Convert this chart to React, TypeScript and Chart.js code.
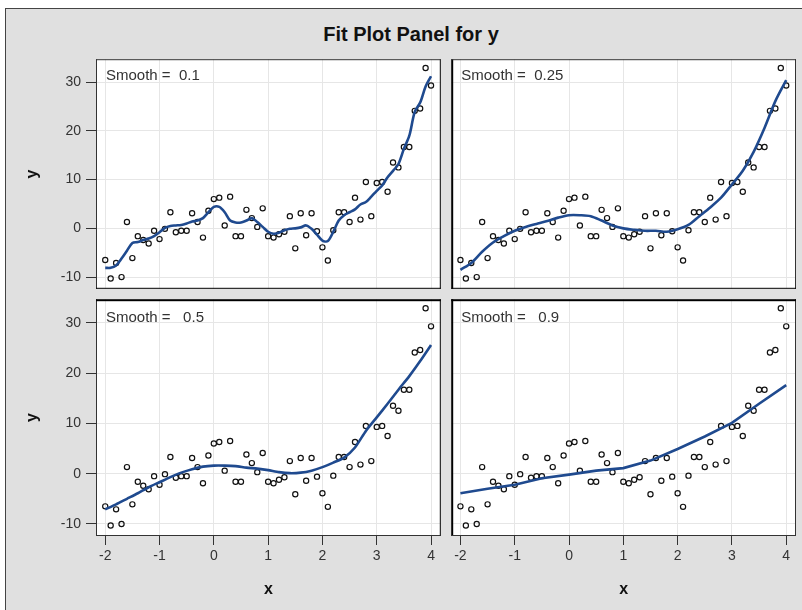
import React, { useEffect, useRef } from "react";
import { Chart, registerables } from "chart.js";

Chart.register(...registerables);

// ---------- data ----------
const xValues = [
  -2.0, -1.9, -1.8, -1.7, -1.6, -1.5, -1.4, -1.3, -1.2, -1.1,
  -1.0, -0.9, -0.8, -0.7, -0.6, -0.5, -0.4, -0.3, -0.2, -0.1,
  0.0, 0.1, 0.2, 0.3, 0.4, 0.5, 0.6, 0.7, 0.8, 0.9,
  1.0, 1.1, 1.2, 1.3, 1.4, 1.5, 1.6, 1.7, 1.8, 1.9,
  2.0, 2.1, 2.2, 2.3, 2.4, 2.5, 2.6, 2.7, 2.8, 2.9,
  3.0, 3.1, 3.2, 3.3, 3.4, 3.5, 3.6, 3.7, 3.8, 3.9, 4.0,
];
const yValues = [
  -6.5, -10.3, -7.1, -10.0, 1.3, -6.1, -1.6, -2.4, -3.1, -0.5,
  -2.2, -0.1, 3.3, -0.8, -0.5, -0.5, 3.1, 1.3, -1.9, 3.6,
  6.0, 6.3, 0.6, 6.5, -1.6, -1.6, 3.8, 2.1, 0.3, 4.1,
  -1.6, -1.9, -1.2, -0.7, 2.5, -4.1, 3.1, -1.4, 3.1, -0.6,
  -3.9, -6.6, -0.4, 3.3, 3.3, 1.3, 6.3, 1.8, 9.5, 2.5,
  9.3, 9.5, 7.5, 13.5, 12.5, 16.7, 16.7, 24.1, 24.6, 32.9, 29.3,
];

const fit01X = xValues;
const fit01Y = [
  -8.1, -8.1, -7.6, -6.2, -4.6, -3.0, -2.8, -2.4, -2.1, -1.6,
  -0.8, 0.1, 0.5, 0.6, 0.7, 1.0, 1.4, 1.6, 2.1, 3.3,
  4.4, 4.4, 3.3, 1.6, 1.2, 1.2, 1.6, 2.1, 1.3, 0.3,
  -0.7, -1.1, -0.9, -0.4, -0.1, 0.0, 0.2, 0.6, -0.1, -1.3,
  -2.5, -2.6, -0.7, 1.6, 2.7, 3.3, 3.9, 4.9, 5.4, 6.5,
  7.7, 8.8, 10.5, 11.8, 13.2, 16.3, 19.0, 23.9, 25.8, 29.1, 31.2,
];

const fitEvenX = [
  -2.0, -1.8, -1.6, -1.4, -1.2, -1.0, -0.8, -0.6, -0.4, -0.2,
  0.0, 0.2, 0.4, 0.6, 0.8, 1.0, 1.2, 1.4, 1.6, 1.8,
  2.0, 2.2, 2.4, 2.6, 2.8, 3.0, 3.2, 3.4, 3.6, 3.8, 4.0,
];
const fit025Y = [
  -8.5, -7.1, -4.8, -2.9, -1.6, -0.5, 0.3, 0.9, 1.5, 2.2,
  2.7, 2.7, 2.5, 1.6, 0.6, 0.0, -0.3, -0.5, -0.5, -0.7,
  -0.2, 0.7, 2.5, 4.3, 6.3, 9.0, 11.8, 15.7, 20.6, 26.1, 30.4,
];
const fit05Y = [
  -7.1, -6.1, -5.0, -3.9, -2.7, -1.7, -0.7, 0.2, 0.9, 1.4,
  1.6, 1.6, 1.5, 1.2, 1.0, 0.7, 0.3, 0.1, 0.2, 0.6,
  1.3, 2.2, 3.2, 5.2, 8.5, 11.2, 13.9, 16.7, 19.4, 22.4, 25.6,
];

const fit09X = [-2.0, -1.5, -1.0, -0.5, 0.0, 0.5, 1.0, 1.5, 2.0, 2.5, 3.0, 3.5, 4.0];
const fit09Y = [-3.9, -3.0, -2.2, -0.9, -0.2, 0.6, 1.1, 2.6, 4.9, 7.4, 10.1, 13.9, 17.6];

const xTicks = [-2, -1, 0, 1, 2, 3, 4];
const yTicks = [-10, 0, 10, 20, 30];
const smoothLabels = ["Smooth =  0.1", "Smooth =  0.25", "Smooth =   0.5", "Smooth =   0.9"];
const titleText = "Fit Plot Panel for y";
const xTitle = "x";
const yTitle = "y";

// ---------- style ----------
const FONT = "'Liberation Sans', Arial, Helvetica, sans-serif";
const GRID = "#e6e6e6";
const TEXT = "#333333";
const FIT_COLOR = "#1f4a8f";
const X_MIN = -2.17;
const X_MAX = 4.18;
const Y_MIN = -12.4;
const Y_MAX = 34.7;

type Side = { w: number; c: string };
type Sides = { left: Side; right: Side; top: Side; bottom: Side };

const framePlugin = {
  id: "panelFrame",
  beforeDraw(chart: any) {
    const { ctx, chartArea: a } = chart;
    ctx.save();
    ctx.fillStyle = "#ffffff";
    ctx.fillRect(a.left, a.top, a.right - a.left, a.bottom - a.top);
    ctx.restore();
  },
  afterDraw(chart: any, _args: any, opts: any) {
    const { ctx, chartArea: a } = chart;
    const s: Sides = opts.sides;
    const h = a.bottom - a.top;
    const w = a.right - a.left;
    ctx.save();
    ctx.fillStyle = s.left.c;
    ctx.fillRect(a.left, a.top, s.left.w, h);
    ctx.fillStyle = s.right.c;
    ctx.fillRect(a.right - s.right.w, a.top, s.right.w, h);
    ctx.fillStyle = s.top.c;
    ctx.fillRect(a.left, a.top, w, s.top.w);
    ctx.fillStyle = s.bottom.c;
    ctx.fillRect(a.left, a.bottom - s.bottom.w, w, s.bottom.w);
    ctx.font = `15px ${FONT}`;
    ctx.fillStyle = TEXT;
    ctx.textBaseline = "middle";
    ctx.textAlign = "left";
    ctx.fillText(opts.label, a.left + opts.lx, a.top + opts.ly);
    ctx.restore();
  },
};

type PanelProps = {
  left: number;
  top: number;
  width: number;
  height: number;
  showX: boolean;
  showY: boolean;
  padRight: number;
  fitX: number[];
  fitY: number[];
  tension: number;
  label: string;
  lx: number;
  ly: number;
  sides: Sides;
};

function Panel(p: PanelProps) {
  const ref = useRef<HTMLCanvasElement>(null);
  useEffect(() => {
    const pts = xValues.map((x, i) => ({ x, y: yValues[i] }));
    const fit = p.fitX.map((x, i) => ({ x, y: p.fitY[i] }));
    const chart = new Chart(ref.current as HTMLCanvasElement, {
      type: "scatter",
      data: {
        datasets: [
          {
            data: fit,
            showLine: true,
            borderColor: FIT_COLOR,
            borderWidth: 2.6,
            pointRadius: 0,
            tension: p.tension,
            order: 1,
          } as any,
          {
            data: pts,
            pointRadius: 2.6,
            pointBorderWidth: 1.2,
            borderColor: "#111111",
            backgroundColor: "rgba(255,255,255,0)",
            order: 2,
          } as any,
        ],
      },
      options: {
        animation: false,
        responsive: false,
        events: [],
        layout: { padding: { left: 0, right: p.padRight, top: 0, bottom: 0 } },
        plugins: {
          legend: { display: false },
          tooltip: { enabled: false },
          title: { display: false },
          panelFrame: { sides: p.sides, label: p.label, lx: p.lx, ly: p.ly },
        } as any,
        scales: {
          x: {
            type: "linear",
            min: X_MIN,
            max: X_MAX,
            afterBuildTicks: (s: any) => {
              s.ticks = xTicks.map((v) => ({ value: v }));
            },
            afterFit: (s: any) => {
              s.height = p.showX ? 74 : 0;
              s.paddingLeft = 0;
              s.paddingRight = 0;
            },
            grid: {
              color: GRID,
              lineWidth: 1,
              drawTicks: p.showX,
              tickLength: 9,
              tickColor: "#333333",
              tickWidth: 1,
            },
            border: { display: false },
            ticks: {
              display: p.showX,
              padding: 3,
              maxRotation: 0,
              autoSkip: false,
              color: TEXT,
              font: { family: FONT, size: 14 },
            },
            title: {
              display: p.showX,
              text: xTitle,
              color: "#111111",
              font: { family: FONT, size: 16, weight: "bold" },
              padding: { top: 0, bottom: 11 },
            },
          },
          y: {
            type: "linear",
            min: Y_MIN,
            max: Y_MAX,
            afterBuildTicks: (s: any) => {
              s.ticks = yTicks.map((v) => ({ value: v }));
            },
            afterFit: (s: any) => {
              s.width = p.showY ? 96 : 0;
              s.paddingTop = 0;
              s.paddingBottom = 0;
            },
            grid: {
              color: GRID,
              lineWidth: 1,
              drawTicks: p.showY,
              tickLength: 10,
              tickColor: "#333333",
              tickWidth: 1,
            },
            border: { display: false },
            ticks: {
              display: p.showY,
              padding: 5,
              color: TEXT,
              font: { family: FONT, size: 14 },
            },
            title: {
              display: p.showY,
              text: yTitle,
              color: "#111111",
              font: { family: FONT, size: 16, weight: "bold" },
              padding: { top: 23, bottom: 0 },
            },
          },
        },
      } as any,
      plugins: [framePlugin as any],
    });
    return () => chart.destroy();
  }, []);
  return (
    <canvas
      ref={ref}
      width={p.width}
      height={p.height}
      style={{ position: "absolute", left: p.left, top: p.top, width: p.width, height: p.height, display: "block" }}
    />
  );
}

const OUT = "#333333";
const DIV = "#000000";

export default function App() {
  return (
    <div
      style={{
        position: "fixed",
        left: 0,
        top: 0,
        width: 802,
        height: 610,
        overflow: "hidden",
        background: "#ffffff",
      }}
    >
      <div
        style={{
          position: "absolute",
          left: 5,
          top: 8,
          width: 900,
          height: 700,
          background: "#e0e0e0",
          border: "1px solid #444444",
        }}
      />
      <div
        style={{
          position: "absolute",
          left: 0,
          top: 22,
          width: 822,
          textAlign: "center",
          fontFamily: FONT,
          fontWeight: "bold",
          fontSize: 20,
          lineHeight: "24px",
          color: "#111111",
        }}
      >
        {titleText}
      </div>
      <Panel
        left={0}
        top={54}
        width={446}
        height={240}
        showX={false}
        showY={true}
        padRight={0}
        fitX={fit01X}
        fitY={fit01Y}
        tension={0.3}
        label={smoothLabels[0]}
        lx={10}
        ly={17}
        sides={{ left: { w: 1, c: OUT }, top: { w: 1, c: OUT }, right: { w: 1, c: DIV }, bottom: { w: 1, c: DIV } }}
      />
      <Panel
        left={446}
        top={54}
        width={356}
        height={240}
        showX={false}
        showY={false}
        padRight={6}
        fitX={fitEvenX}
        fitY={fit025Y}
        tension={0.3}
        label={smoothLabels[1]}
        lx={10}
        ly={17}
        sides={{ left: { w: 2, c: DIV }, top: { w: 1, c: OUT }, right: { w: 1, c: OUT }, bottom: { w: 1, c: DIV } }}
      />
      <Panel
        left={0}
        top={294}
        width={446}
        height={316}
        showX={true}
        showY={true}
        padRight={0}
        fitX={fitEvenX}
        fitY={fit05Y}
        tension={0.2}
        label={smoothLabels[2]}
        lx={10}
        ly={19}
        sides={{ left: { w: 1, c: OUT }, top: { w: 2, c: DIV }, right: { w: 1, c: DIV }, bottom: { w: 1, c: OUT } }}
      />
      <Panel
        left={446}
        top={294}
        width={356}
        height={316}
        showX={true}
        showY={false}
        padRight={6}
        fitX={fit09X}
        fitY={fit09Y}
        tension={0}
        label={smoothLabels[3]}
        lx={10}
        ly={19}
        sides={{ left: { w: 2, c: DIV }, top: { w: 2, c: DIV }, right: { w: 1, c: OUT }, bottom: { w: 1, c: OUT } }}
      />
    </div>
  );
}
